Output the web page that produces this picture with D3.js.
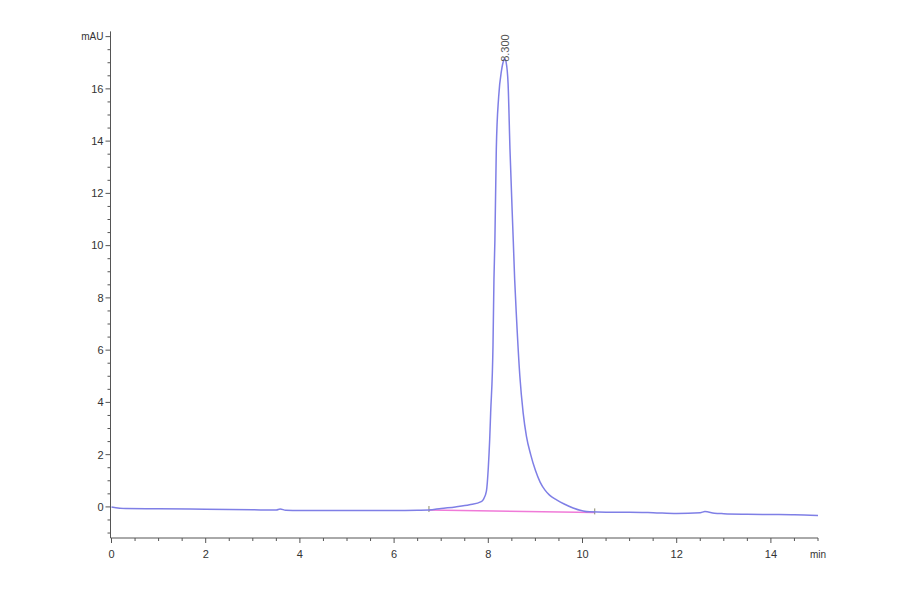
<!DOCTYPE html>
<html>
<head>
<meta charset="utf-8">
<script src="https://cdn.jsdelivr.net/npm/d3@7"></script>
<style>
  body { margin: 0; background: #fff; }
  text { font-family: "Liberation Sans", Arial, sans-serif; }
</style>
</head>
<body>
<div id="chart"></div>
<script>
// chromatogram trace (time in min, signal in mAU)
const times = [0, 0.3, 1, 2, 3, 3.5, 3.58, 3.7, 4, 5, 6, 6.5, 6.74, 7, 7.3, 7.6, 7.85, 7.9, 7.96, 8.0, 8.03, 8.05, 8.1, 8.12, 8.14, 8.17, 8.22, 8.28, 8.33, 8.35, 8.38, 8.42, 8.46, 8.53, 8.56, 8.6, 8.67, 8.74, 8.81, 8.9, 9.0, 9.1, 9.2, 9.3, 9.45, 9.6, 9.8, 10.15, 10.5, 11, 11.5, 12, 12.5, 12.6, 12.8, 13, 13.5, 14, 14.5, 15];
const signal = [0, -0.06, -0.07, -0.09, -0.11, -0.12, -0.08, -0.13, -0.14, -0.14, -0.14, -0.13, -0.12, -0.06, 0, 0.08, 0.2, 0.3, 0.6, 1.5, 2.6, 3.6, 6.2, 8.7, 10.2, 13.7, 15.7, 16.7, 17.1, 17.15, 17.0, 16.2, 13.7, 10.2, 8.7, 7.2, 5.0, 3.6, 2.7, 2.0, 1.4, 0.95, 0.65, 0.45, 0.27, 0.12, -0.04, -0.19, -0.2, -0.2, -0.22, -0.25, -0.22, -0.18, -0.24, -0.26, -0.28, -0.29, -0.3, -0.33];

// integration baseline and peak label
const baseTimes = [6.74, 10.26];
const baseValues = [-0.12, -0.21];
const peakTime = 8.35;
const peakValue = 17.15;
const peakLabel = "8.300";

const xMajor = [0, 2, 4, 6, 8, 10, 12, 14];
const yMajor = [0, 2, 4, 6, 8, 10, 12, 14, 16];
const xUnit = "min";
const yUnit = "mAU";

const width = 900, height = 594;
const svg = d3.select("#chart").append("svg").attr("width", width).attr("height", height);

const x = d3.scaleLinear().domain([0, 15]).range([111.5, 818]);
const y = d3.scaleLinear().domain([-1.19, 18.1]).range([538, 34]);

const axisColor = "#555";
const labelColor = "#333";

// y axis
const gy = svg.append("g").attr("transform", `translate(${x(0) - 1},0)`);
gy.append("line").attr("y1", y(-1.19)).attr("y2", y(18.2)).attr("stroke", axisColor);
gy.selectAll("line.minor").data(d3.range(-1, 18.01, 0.5)).join("line").attr("class", "minor")
  .attr("x1", d => d % 2 === 0 ? -5 : -3).attr("x2", 0)
  .attr("y1", d => y(d)).attr("y2", d => y(d)).attr("stroke", axisColor);
gy.selectAll("text").data(yMajor).join("text")
  .attr("x", -7).attr("y", d => y(d)).attr("dy", "0.35em").attr("text-anchor", "end")
  .attr("font-size", 11).attr("fill", labelColor).text(d => d);
gy.append("text").attr("x", -7).attr("y", y(18)).attr("dy", "0.35em").attr("text-anchor", "end")
  .attr("font-size", 10).attr("fill", labelColor).text(yUnit);

// x axis
const gx = svg.append("g").attr("transform", `translate(0,${y(-1.19)})`);
gx.append("line").attr("x1", x(0) - 1).attr("x2", x(15)).attr("stroke", axisColor);
gx.selectAll("line.minor").data(d3.range(0, 15.01, 0.5)).join("line").attr("class", "minor")
  .attr("x1", d => x(d)).attr("x2", d => x(d))
  .attr("y1", 0).attr("y2", d => d % 2 === 0 ? 5 : 3).attr("stroke", axisColor);
gx.selectAll("text").data(xMajor).join("text")
  .attr("x", d => x(d)).attr("y", 20).attr("text-anchor", "middle")
  .attr("font-size", 11).attr("fill", labelColor).text(d => d);
gx.append("text").attr("x", x(15)).attr("y", 20).attr("text-anchor", "middle")
  .attr("font-size", 10).attr("fill", labelColor).text(xUnit);

// baseline
svg.append("line")
  .attr("x1", x(baseTimes[0])).attr("y1", y(baseValues[0]))
  .attr("x2", x(baseTimes[1])).attr("y2", y(baseValues[1]))
  .attr("stroke", "#f07ad8").attr("stroke-width", 1.5);
svg.selectAll("line.mark").data(baseTimes).join("line").attr("class", "mark")
  .attr("x1", d => x(d)).attr("x2", d => x(d))
  .attr("y1", (d, i) => y(baseValues[i]) - 4).attr("y2", (d, i) => y(baseValues[i]) + 2)
  .attr("stroke", "#8a8a6a").attr("stroke-width", 1);

// trace
const pts = times.map((t, i) => [t, signal[i]]);
svg.append("path").datum(pts)
  .attr("d", d3.line().x(d => x(d[0])).y(d => y(d[1])).curve(d3.curveMonotoneX))
  .attr("fill", "none").attr("stroke", "#7f7fe6").attr("stroke-width", 1.5);

// peak label, rotated
svg.append("text")
  .attr("transform", `translate(${x(peakTime) + 4},${y(peakValue) + 3}) rotate(-90)`)
  .attr("font-size", 11).attr("fill", "#555").text(peakLabel);
</script>
</body>
</html>
